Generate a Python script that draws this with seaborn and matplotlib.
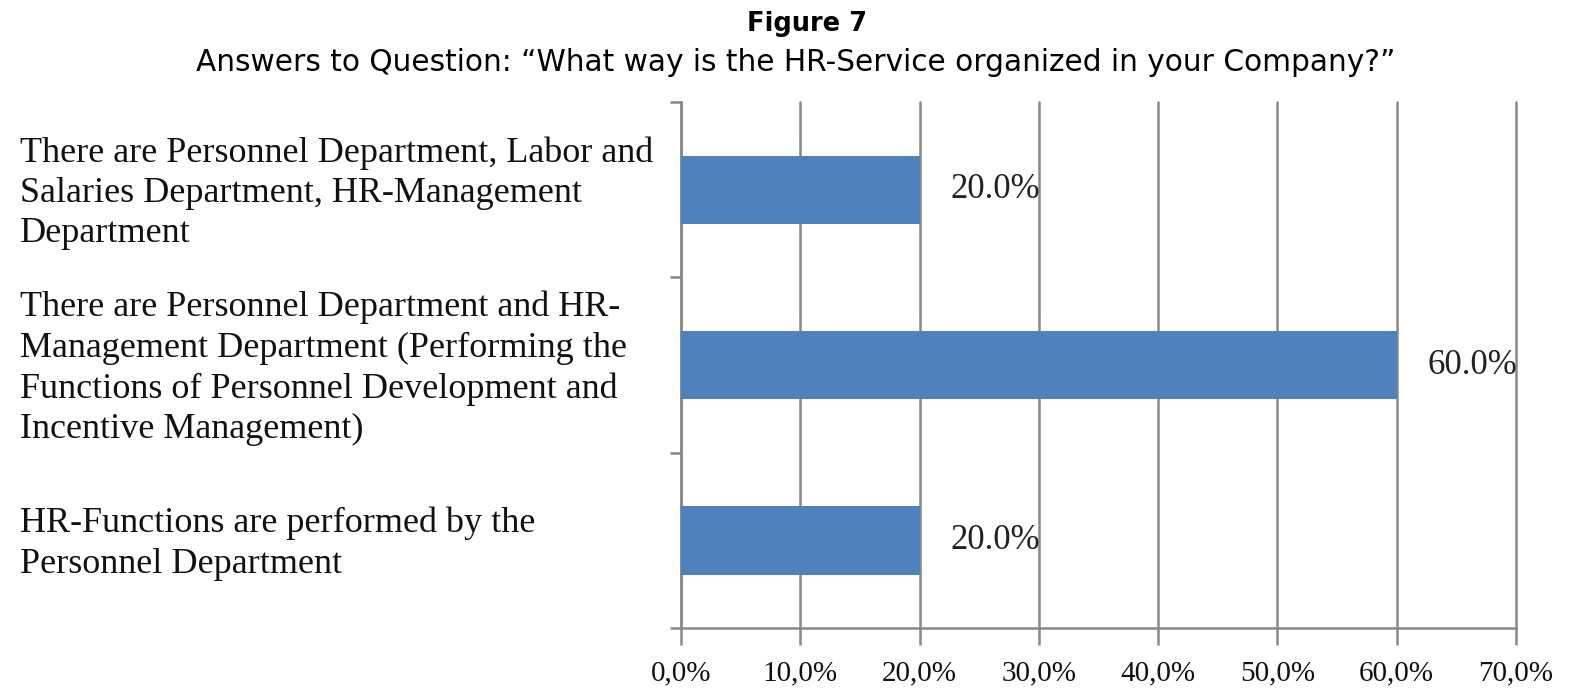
import matplotlib
matplotlib.use("Agg")
import matplotlib.pyplot as plt
import matplotlib.transforms as mtransforms
import seaborn as sns
import pandas as pd
import numpy as np

# Survey answers and their shares (%)
categories = [
    "There are Personnel Department, Labor and\nSalaries Department, HR-Management\nDepartment",
    "There are Personnel Department and HR-\nManagement Department (Performing the\nFunctions of Personnel Development and\nIncentive Management)",
    "HR-Functions are performed by the\nPersonnel Department",
]
shares = [20.0, 60.0, 20.0]
xticks = [0, 10, 20, 30, 40, 50, 60, 70]
xtick_labels = ["0,0%", "10,0%", "20,0%", "30,0%", "40,0%", "50,0%", "60,0%", "70,0%"]

df = pd.DataFrame({"answer": categories, "share": shares})

sns.set_theme(style="white")
plt.rcParams["font.family"] = ["Liberation Serif", "DejaVu Serif"]

fig = plt.figure(figsize=(15.77, 6.96), dpi=100)
ax = fig.add_axes([0.4318, 0.0977, 0.5295, 0.7557])

grid_color = "#888888"
bar_color = "#4F81BD"

sns.barplot(data=df, y="answer", x="share", orient="h", color=bar_color,
            width=0.39, saturation=1, linewidth=0, ax=ax, zorder=3)

ax.set_xlim(0, 70)
ax.set_ylim(2.5, -0.5)
ax.set_xlabel("")
ax.set_ylabel("")

# vertical gridlines
ax.set_xticks(xticks)
ax.set_xticklabels(xtick_labels, fontsize=21)
ax.xaxis.grid(True, color=grid_color, linewidth=1.8, zorder=0)
ax.set_axisbelow(True)
for gl in ax.get_xgridlines():
    gl.set_clip_on(False)
ax.tick_params(axis="x", which="major", direction="out", length=12, width=1.8,
               color=grid_color, pad=11, labelcolor="#111111", bottom=True)

# y ticks sit between the categories
ax.set_yticks([])
ax.set_yticks([-0.5, 0.5, 1.5, 2.5], minor=True)
ax.tick_params(axis="y", which="minor", direction="out", length=8, width=1.8,
               color=grid_color, left=True)

for side in ["top", "right"]:
    ax.spines[side].set_visible(False)
for side in ["left", "bottom"]:
    ax.spines[side].set_color(grid_color)
    ax.spines[side].set_linewidth(1.8)

# category labels, left-aligned in the left margin
trans = mtransforms.blended_transform_factory(fig.transFigure, ax.transData)
for i, label in enumerate(categories):
    ax.text(0.0125, i + 0.02, label, transform=trans, ha="left", va="center",
            fontsize=26, linespacing=1.29, color="#111111")

# value labels beside each bar
for i, v in enumerate(shares):
    ax.text(v + 2.6, i, f"{v:.1f}%", ha="left", va="center",
            fontsize=25, color="#222222")

fig.text(0.512, 0.966, "Figure 7", ha="center", va="center",
         fontsize=18.5, fontweight="bold", family="DejaVu Sans", color="black")
fig.text(0.5045, 0.91,
         "Answers to Question: \u201cWhat way is the HR-Service organized in your Company?\u201d",
         ha="center", va="center", fontsize=21.3, family="DejaVu Sans", color="black")

fig.savefig("out.png", dpi=100, facecolor="white")
